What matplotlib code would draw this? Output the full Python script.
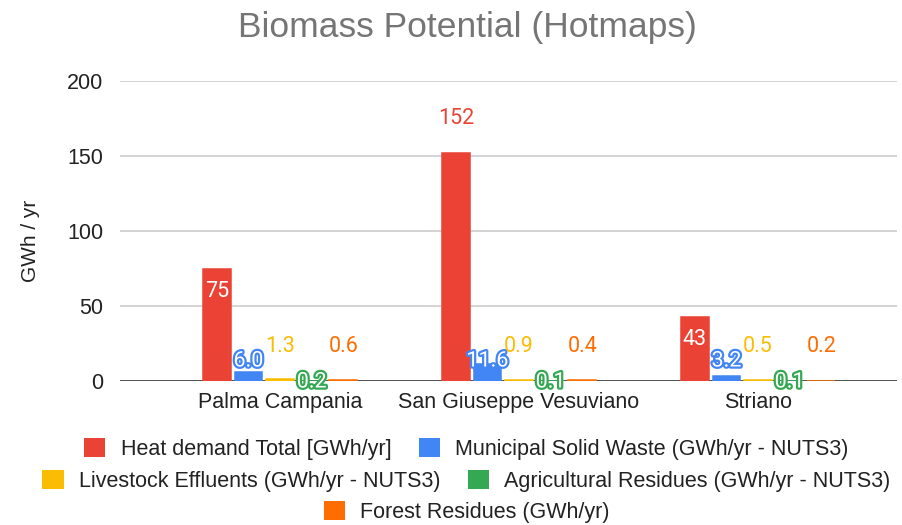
import matplotlib
matplotlib.use("Agg")
import matplotlib.pyplot as plt
import matplotlib.patheffects as pe
from matplotlib.patches import Patch
import numpy as np

municipalities = ["Palma Campania", "San Giuseppe Vesuviano", "Striano"]
series_names = [
    "Heat demand Total [GWh/yr]",
    "Municipal Solid Waste (GWh/yr - NUTS3)",
    "Livestock Effluents (GWh/yr - NUTS3)",
    "Agricultural Residues (GWh/yr - NUTS3)",
    "Forest Residues (GWh/yr)",
]
heat_demand = [75, 152, 43]
solid_waste = [6.0, 11.6, 3.2]
livestock = [1.3, 0.9, 0.5]
agricultural = [0.2, 0.1, 0.1]
forest = [0.6, 0.4, 0.2]
heat_labels = ["75", "152", "43"]
waste_labels = ["6.0", "11.6", "3.2"]
livestock_labels = ["1.3", "0.9", "0.5"]
agri_labels = ["0.2", "0.1", "0.1"]
forest_labels = ["0.6", "0.4", "0.2"]
y_ticks = [0, 50, 100, 150, 200]

colors = ["#EA4335", "#4285F4", "#FBBC04", "#34A853", "#FF6D01"]
values = [heat_demand, solid_waste, livestock, agricultural, forest]

AX_FONT = "Liberation Sans"
LBL_FONT = "Roboto"
LBL_SIZE = 15.5
TXT = "#222222"

fig = plt.figure(figsize=(9.03, 5.25), dpi=100)
ax = fig.add_axes([120 / 903, 144 / 525, 777 / 903, 300 / 525])

x = np.arange(len(municipalities))
pitch = 0.1322
width = 0.116
offsets = (np.arange(5) - 2) * pitch

# bars sit above the baseline; a thin same-colour edge keeps tiny values visible
for i in range(5):
    ax.bar(x + offsets[i], values[i], width=width, color=colors[i],
           edgecolor=colors[i], linewidth=1.1, zorder=5)


def halo(c):
    return [pe.withStroke(linewidth=3.2, foreground=c)]


for j in range(len(municipalities)):
    v = heat_demand[j]
    if v > 100:
        ax.annotate(heat_labels[j], (x[j] + offsets[0], v), xytext=(0, 35),
                    textcoords="offset pixels", ha="center", va="center",
                    color=colors[0], fontsize=LBL_SIZE, family=LBL_FONT, zorder=7)
    else:
        ax.annotate(heat_labels[j], (x[j] + offsets[0], v), xytext=(0, -23),
                    textcoords="offset pixels", ha="center", va="center",
                    color="white", fontsize=LBL_SIZE, family=LBL_FONT, zorder=7)
    ax.annotate(waste_labels[j], (x[j] + offsets[1], 0), xytext=(0, 20),
                textcoords="offset pixels", ha="center", va="center",
                color="white", fontsize=LBL_SIZE, family=LBL_FONT, zorder=7,
                path_effects=halo(colors[1]))
    ax.annotate(livestock_labels[j], (x[j] + offsets[2], 0), xytext=(0, 34),
                textcoords="offset pixels", ha="center", va="center",
                color=colors[2], fontsize=LBL_SIZE, family=LBL_FONT, zorder=7)
    ax.annotate(forest_labels[j], (x[j] + offsets[4], 0), xytext=(0, 34),
                textcoords="offset pixels", ha="center", va="center",
                color=colors[4], fontsize=LBL_SIZE, family=LBL_FONT, zorder=7)
    ax.annotate(agri_labels[j], (x[j] + offsets[3], 0), xytext=(0, -1),
                textcoords="offset pixels", ha="center", va="center",
                color="white", fontsize=LBL_SIZE, family=LBL_FONT, zorder=8,
                path_effects=halo(colors[3]))

ax.set_xlim(-0.6695, 2.5816)
ax.set_ylim(0, 200)
ax.set_yticks(y_ticks)
ax.set_yticklabels([str(t) for t in y_ticks], family=AX_FONT, fontsize=15.5, color=TXT)
ax.set_xticks(x)
ax.set_xticklabels(municipalities, family=AX_FONT, fontsize=15.5, color=TXT)
ax.tick_params(length=0)
ax.tick_params(axis="y", pad=12)
ax.tick_params(axis="x", pad=8)
for s in ax.spines.values():
    s.set_visible(False)
ax.grid(axis="y", color="#cccccc", linewidth=1.2, zorder=0)
ax.axhline(0, color="#444444", linewidth=2, zorder=4)

ax.set_ylabel("GWh / yr", family=AX_FONT, fontsize=15, color=TXT)
ax.yaxis.set_label_coords(-(120 - 40) / 777, (381 - 241) / 300)

fig.text(467 / 903, 1 - 27 / 525, "Biomass Potential (Hotmaps)", ha="center", va="center",
         family=AX_FONT, fontsize=25.5, color="#757575")

rows = [[0, 1], [2, 3], [4]]
row_y = [449, 481, 512]
for r, yy in zip(rows, row_y):
    handles = [Patch(facecolor=colors[i], edgecolor="none", label=series_names[i]) for i in r]
    leg = fig.legend(handles=handles, loc="center", bbox_to_anchor=(466.5 / 903, 1 - yy / 525),
                     ncol=len(r), frameon=False, handlelength=0.98, handleheight=0.93,
                     handletextpad=0.7, columnspacing=1.3, borderpad=0, borderaxespad=0,
                     prop={"family": AX_FONT, "size": 15.5})
    for t in leg.get_texts():
        t.set_color(TXT)

fig.savefig("out.png", dpi=100)
